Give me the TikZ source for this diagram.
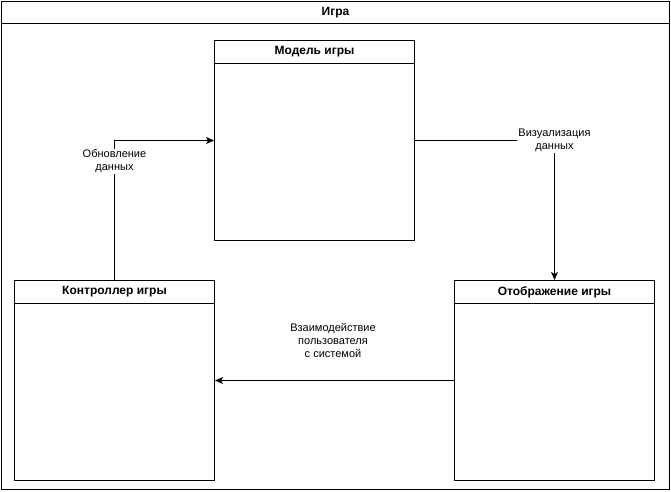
\documentclass[tikz,border=0pt]{standalone}
\usepackage{fontspec}
\setmainfont{Liberation Sans}
\usetikzlibrary{arrows.meta}
\begin{document}
\begin{tikzpicture}[x=1pt,y=-1pt,
  frame/.style={draw=black, line width=1pt, inner sep=0pt, anchor=north west},
  titlebar/.style={draw=black, line width=1pt, inner sep=0pt, anchor=north west,
    font=\fontsize{12}{14}\selectfont\bfseries},
  lbl/.style={fill=white, inner sep=1pt, align=center, font=\fontsize{11}{13}\selectfont},
  link/.style={draw=black, line width=1pt, -{Stealth[length=8pt,width=7pt,inset=2pt]}}]
\useasboundingbox (0,0) rectangle (671,491);

% outer container with its title bar
\node[frame, minimum width=668pt, minimum height=488pt] (game) at (1,1) {};
\node[titlebar, minimum width=668pt, minimum height=22pt] (gameT) at (1,1) {Игра};

% model
\node[frame, minimum width=200pt, minimum height=200pt] (model) at (214,40) {};
\node[titlebar, minimum width=200pt, minimum height=23pt] (modelT) at (214,40) {Модель игры};

% controller
\node[frame, minimum width=200pt, minimum height=200pt] (ctrl) at (14,280) {};
\node[titlebar, minimum width=200pt, minimum height=23pt] (ctrlT) at (14,280) {Контроллер игры};

% view
\node[frame, minimum width=200pt, minimum height=200pt] (disp) at (454,280) {};
\node[titlebar, minimum width=200pt, minimum height=23pt] (dispT) at (454,280) {Отображение игры};

% connectors
\draw[link] (ctrl.north) |- node[lbl, pos=0.425] (upd) {Обновление\\данных} (model.west);
\draw[link] (model.east) -| node[lbl, pos=0.5] (vis) {Визуализация\\данных} (disp.north);
\draw[link] (disp.west) -- (ctrl.east);
\node[lbl, fill=none] (interact) at (333,340) {Взаимодействие\\пользователя\\с системой};
\end{tikzpicture}
\end{document}
